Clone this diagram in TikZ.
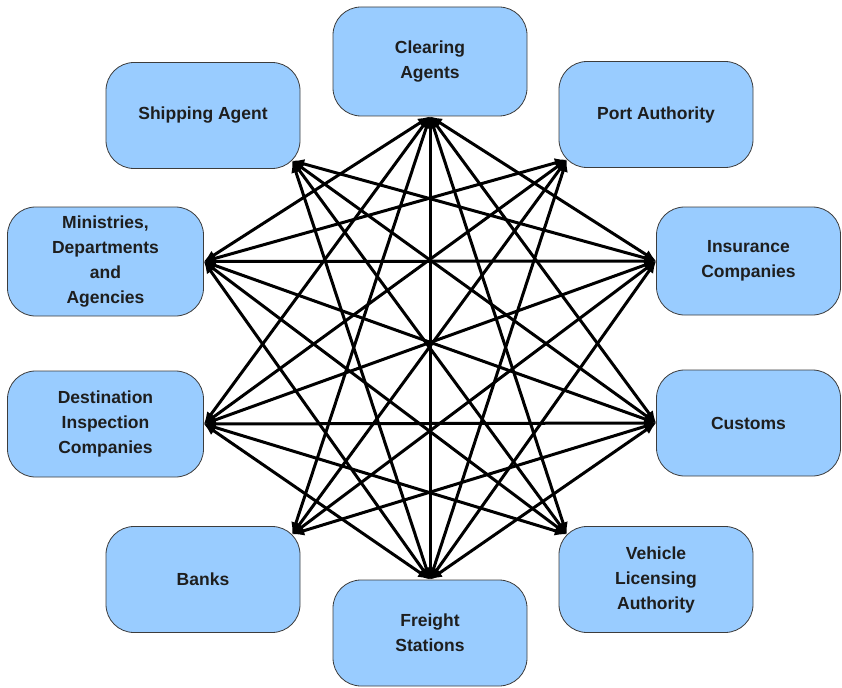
\documentclass[tikz,border=0pt]{standalone}
\usepackage{fontspec}
\setmainfont{Liberation Sans}
\usetikzlibrary{arrows.meta,calc}
\definecolor{boxfill}{RGB}{153,204,255}
\definecolor{boxline}{RGB}{60,60,60}
\definecolor{txt}{RGB}{30,30,30}
\tikzset{
  agency/.style={draw=boxline, line width=0.8pt, fill=boxfill, rounded corners=28pt,
    minimum width=194pt, minimum height=106pt, inner sep=0pt, align=center,
    text=txt, font=\bfseries\fontsize{17.5}{25}\selectfont},
  link/.style={line width=3pt, black, {Latex[length=12pt,width=10pt]}-{Latex[length=12pt,width=10pt]}}
}
\begin{document}
\begin{tikzpicture}[x=1pt,y=-1pt]
\useasboundingbox (0,0) rectangle (842,687);
\node[agency, minimum height=109pt] (clr) at (430,61.5) {Clearing\\Agents};
\node[agency] (port) at (656,114.5) {Port Authority};
\node[agency, minimum width=184pt, minimum height=108pt] (ins) at (748.5,261) {Insurance\\Companies};
\node[agency, minimum width=184pt] (cus) at (748.5,423) {Customs};
\node[agency] (veh) at (656,579.5) {Vehicle\\Licensing\\Authority};
\node[agency] (frt) at (430,633) {Freight\\Stations};
\node[agency] (bnk) at (203,579.5) {Banks};
\node[agency, minimum width=196pt] (dst) at (105.5,424) {Destination\\Inspection\\Companies};
\node[agency, minimum width=196pt, minimum height=109pt] (min) at (105.5,261.5) {Ministries,\\Departments\\and\\Agencies};
\node[agency] (shp) at (203,115.5) {Shipping Agent};

\coordinate (pC) at (clr.south);
\coordinate (pF) at (frt.north);
\coordinate (pM) at (min.east);
\coordinate (pD) at (dst.east);
\coordinate (pI) at (ins.west);
\coordinate (pU) at (cus.west);
\coordinate (pS) at ($(shp.south east)+(-8.2,-8.2)$);
\coordinate (pP) at ($(port.south west)+(8.2,-8.2)$);
\coordinate (pB) at ($(bnk.north east)+(-8.2,8.2)$);
\coordinate (pV) at ($(veh.north west)+(8.2,8.2)$);

% Clearing Agents
\foreach \t in {pM,pD,pB,pF,pV,pU,pI} \draw[link] (pC) -- (\t);
% Freight Stations
\foreach \t in {pM,pD,pS,pP,pI,pU} \draw[link] (pF) -- (\t);
% left to right
\foreach \t in {pI,pU,pV} \draw[link] (pS) -- (\t);
\foreach \t in {pP,pI,pU,pV} \draw[link] (pM) -- (\t);
\foreach \t in {pP,pI,pU,pV} \draw[link] (pD) -- (\t);
\foreach \t in {pP,pI,pU} \draw[link] (pB) -- (\t);
\end{tikzpicture}
\end{document}
